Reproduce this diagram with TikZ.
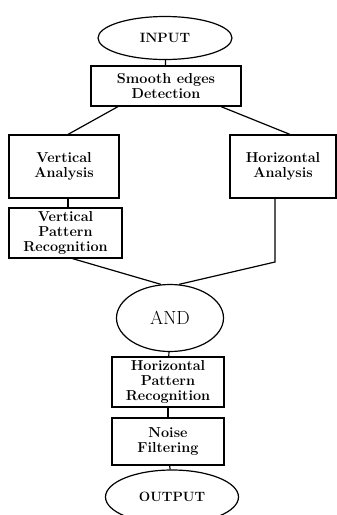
\documentclass[tikz,border=0pt]{standalone}
\usepackage{fontspec}
\usetikzlibrary{shapes.geometric}
\begin{document}
\begin{tikzpicture}[x=1pt, y=-1pt, line width=1.2pt,
  stepbox/.style = {draw, rectangle, inner sep=0pt, align=center,
    font=\fontsize{14.4}{15}\selectfont\bfseries},
  term/.style = {draw, ellipse, inner sep=0pt},
  link/.style = {draw}]
  \useasboundingbox (0,0) rectangle (337,515);
  % terminals
  \node[term, minimum width=134pt, minimum height=43pt, font=\fontsize{13.5}{15}\selectfont\bfseries] (input) at (165,38) {INPUT};
  \node[term, minimum width=107pt, minimum height=67pt, font=\fontsize{19}{20}\selectfont] (and) at (170,318) {AND};
  \node[term, minimum width=133pt, minimum height=54pt, font=\fontsize{13.5}{15}\selectfont\bfseries] (output) at (172,497) {OUTPUT};
  % steps
  \node[stepbox, minimum width=150pt, minimum height=40pt] (smooth) at (166,86) {Smooth edges\\Detection};
  \node[stepbox, minimum width=110pt, minimum height=63pt] (vana) at (64,166.5) {Vertical\\Analysis};
  \node[stepbox, minimum width=106pt, minimum height=63pt] (hana) at (283,166.5) {Horizontal\\Analysis};
  \node[stepbox, minimum width=113pt, minimum height=50pt] (vpat) at (65.5,233) {Vertical\\Pattern\\Recognition};
  \node[stepbox, minimum width=112pt, minimum height=50pt] (hpat) at (168,382) {Horizontal\\Pattern\\Recognition};
  \node[stepbox, minimum width=112pt, minimum height=47pt] (noise) at (168,441.5) {Noise\\Filtering};
  \coordinate (hbend) at (275,262);
  % connectors
  \draw[link] (input) -- (smooth);
  \draw[link] ([xshift=-48pt]smooth.south) -- ([xshift=4pt]vana.north);
  \draw[link] ([xshift=55pt]smooth.south) -- ([xshift=7pt]hana.north);
  \draw[link] ([xshift=4pt]vana.south) -- ([xshift=2.5pt]vpat.north);
  \draw[link] ([xshift=7pt]vpat.south) -- (and.105);
  \draw[link] ([xshift=-8pt]hana.south) -- (hbend) -- (and.75);
  \draw[link] (and) -- (hpat);
  \draw[link] (hpat) -- (noise);
  \draw[link] (noise) -- (output);
\end{tikzpicture}
\end{document}
